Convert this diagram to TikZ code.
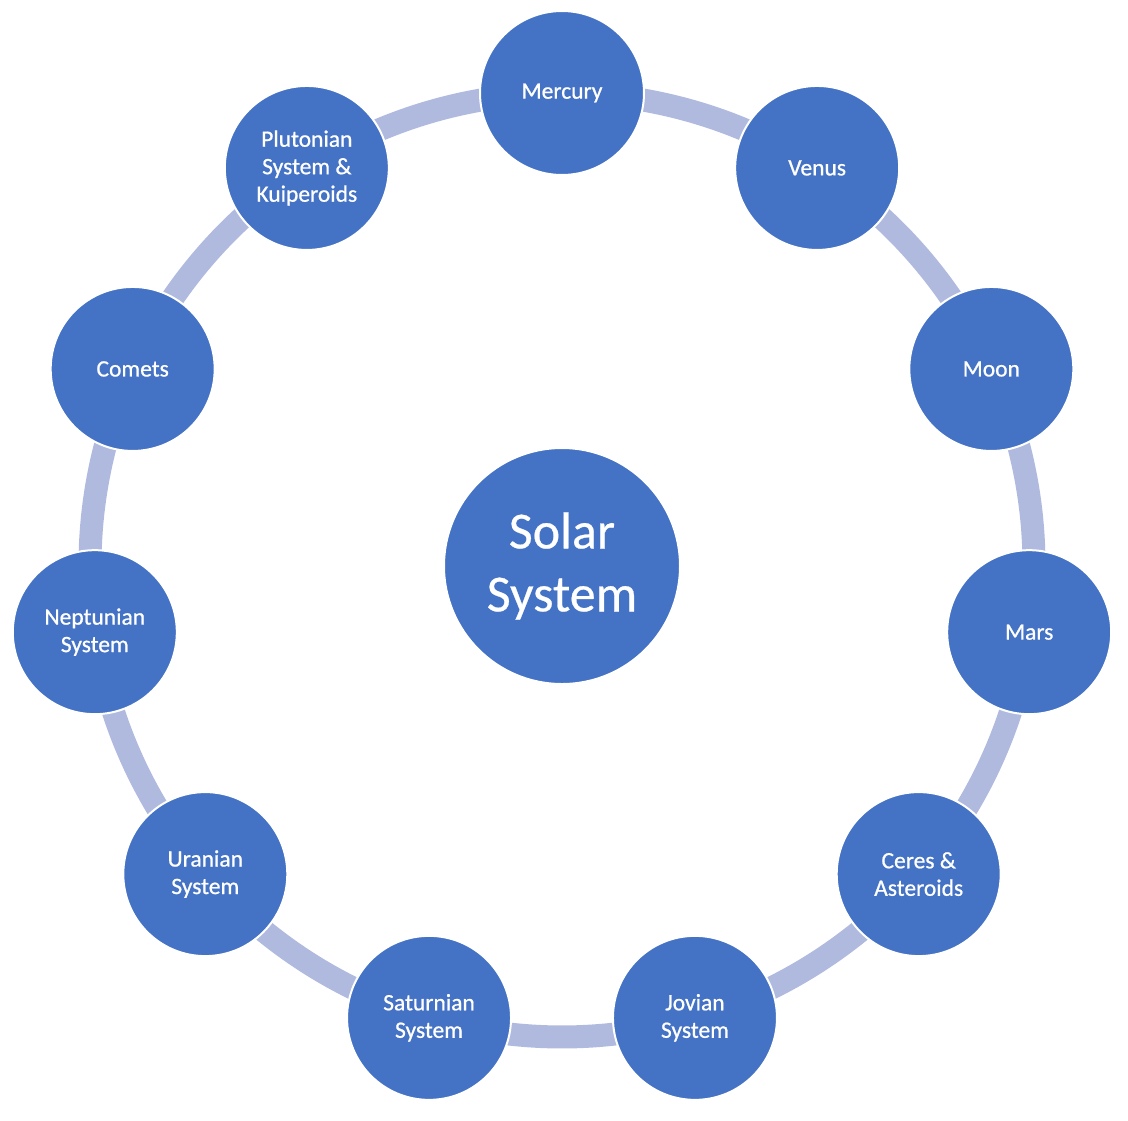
\documentclass[tikz,border=0pt]{standalone}
\usepackage{fontspec}
\setmainfont{Carlito}
\newfontfamily\labelfont[FakeBold=0.8]{Carlito}
\newfontfamily\sunfont[FakeBold=0.5]{Carlito}
\pgfdeclarelayer{background}
\pgfsetlayers{background,main}
\definecolor{planetblue}{HTML}{4472C4}
\definecolor{bandcol}{HTML}{B0BADF}
\tikzset{
  planet/.style={circle, minimum size=164pt, inner sep=0pt, fill=planetblue, draw=white, line width=2pt,
    text=white, align=center, font=\labelfont\fontsize{23.5}{27.5}\selectfont},
  sun/.style={circle, minimum size=236pt, inner sep=0pt, fill=planetblue, draw=white, line width=2pt,
    text=white, align=center, font=\sunfont\fontsize{52}{63}\selectfont},
  band/.style={draw=bandcol, line width=23pt}
}
\begin{document}
\begin{tikzpicture}[x=1pt,y=1pt]
\useasboundingbox (0,0) rectangle (1128,-1120);
\coordinate (c) at (562,-565);
\node[sun] (sun) at (562,-566) {Solar\\System};
\node[planet] (n0) at ([shift={(90:472pt)}]c) {Mercury};
\node[planet] (n1) at ([shift={(57.273:472pt)}]c) {Venus};
\node[planet] (n2) at ([shift={(24.545:472pt)}]c) {Moon};
\node[planet] (n3) at ([shift={(-8.182:472pt)}]c) {Mars};
\node[planet] (n4) at ([shift={(-40.909:472pt)}]c) {Ceres \&\\Asteroids};
\node[planet] (n5) at ([shift={(-73.636:472pt)}]c) {Jovian\\System};
\node[planet] (n6) at ([shift={(-106.364:472pt)}]c) {Saturnian\\System};
\node[planet] (n7) at ([shift={(-139.091:472pt)}]c) {Uranian\\System};
\node[planet] (n8) at ([shift={(-171.818:472pt)}]c) {Neptunian\\System};
\node[planet] (n9) at ([shift={(-204.545:472pt)}]c) {Comets};
\node[planet] (n10) at ([shift={(-237.273:472pt)}]c) {Plutonian\\System \&\\Kuiperoids};
\begin{pgfonlayer}{background}
\foreach \i/\j in {0/1,1/2,2/3,3/4,4/5,5/6,6/7,7/8,8/9,9/10,10/11}{
  \pgfmathsetmacro{\sa}{90-\i*32.72727}
  \pgfmathsetmacro{\ea}{90-\j*32.72727}
  \draw[band] (n\i.center) arc[start angle=\sa, end angle=\ea, radius=472pt];
}
\end{pgfonlayer}
\end{tikzpicture}
\end{document}
